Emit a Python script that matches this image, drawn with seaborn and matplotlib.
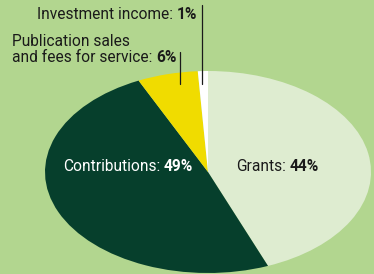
import matplotlib
matplotlib.use("Agg")
import matplotlib.pyplot as plt
import seaborn as sns

# revenue sources, share in percent (clockwise from 12 o'clock)
sources = ["Grants", "Contributions", "Publication sales and fees for service", "Investment income"]
shares = [44, 49, 6, 1]
colors = ["#deecd0", "#063f2c", "#f0dc00", "#ffffff"]

sns.set_style("white")
plt.rcParams["font.family"] = ["Roboto", "DejaVu Sans"]

W, H = 374, 274
bg = "#b2d68f"
fig = plt.figure(figsize=(W / 100, H / 100), dpi=100, facecolor=bg)
ax = fig.add_axes([0, 0, 1, 1])
ax.set_facecolor(bg)

ax.pie(shares, colors=colors, startangle=90, counterclock=False,
       wedgeprops=dict(linewidth=0))
ax.set_aspect("auto")
# pie centre at pixel (208, 172), semi-axes 163 x 101 px
cx, cy, rx, ry = 208, 172, 163, 101
ax.set_xlim(-cx / rx, (W - cx) / rx)
ax.set_ylim(-(H - cy) / ry, cy / ry)
ax.axis("off")

fs = 11.2
renderer = fig.canvas.get_renderer()


def fx(px):
    return px / W


def fy(py):
    return 1 - py / H


def label(x, y, normal, bold, color, anchor="left"):
    if anchor == "left":
        t = fig.text(fx(x), fy(y), normal, ha="left", va="baseline", fontsize=fs, color=color)
        bb = t.get_window_extent(renderer)
        fig.text(fx(bb.x1 + 3.5), fy(y), bold, ha="left", va="baseline", fontsize=fs,
                 color=color, fontweight="bold")
    else:
        t = fig.text(fx(x), fy(y), bold, ha="right", va="baseline", fontsize=fs,
                     color=color, fontweight="bold")
        bb = t.get_window_extent(renderer)
        fig.text(fx(bb.x0 - 3.5), fy(y), normal, ha="right", va="baseline", fontsize=fs,
                 color=color)


ink = "#1a1a1a"
label(197, 19, "Investment income:", "1%", ink, "right")
fig.text(fx(12), fy(46), "Publication sales", ha="left", va="baseline", fontsize=fs, color=ink)
label(12, 62, "and fees for service:", "6%", ink, "left")
label(193, 171, "Contributions:", "49%", "white", "right")
label(236, 171, "Grants:", "44%", ink, "left")

# leader lines
fig.add_artist(plt.Line2D([fx(201.5), fx(201.5)], [fy(5), fy(84)], color=ink, lw=0.9))
fig.add_artist(plt.Line2D([fx(180), fx(180)], [fy(52), fy(84)], color=ink, lw=0.9))

fig.savefig("out.png", dpi=100, facecolor=bg)
